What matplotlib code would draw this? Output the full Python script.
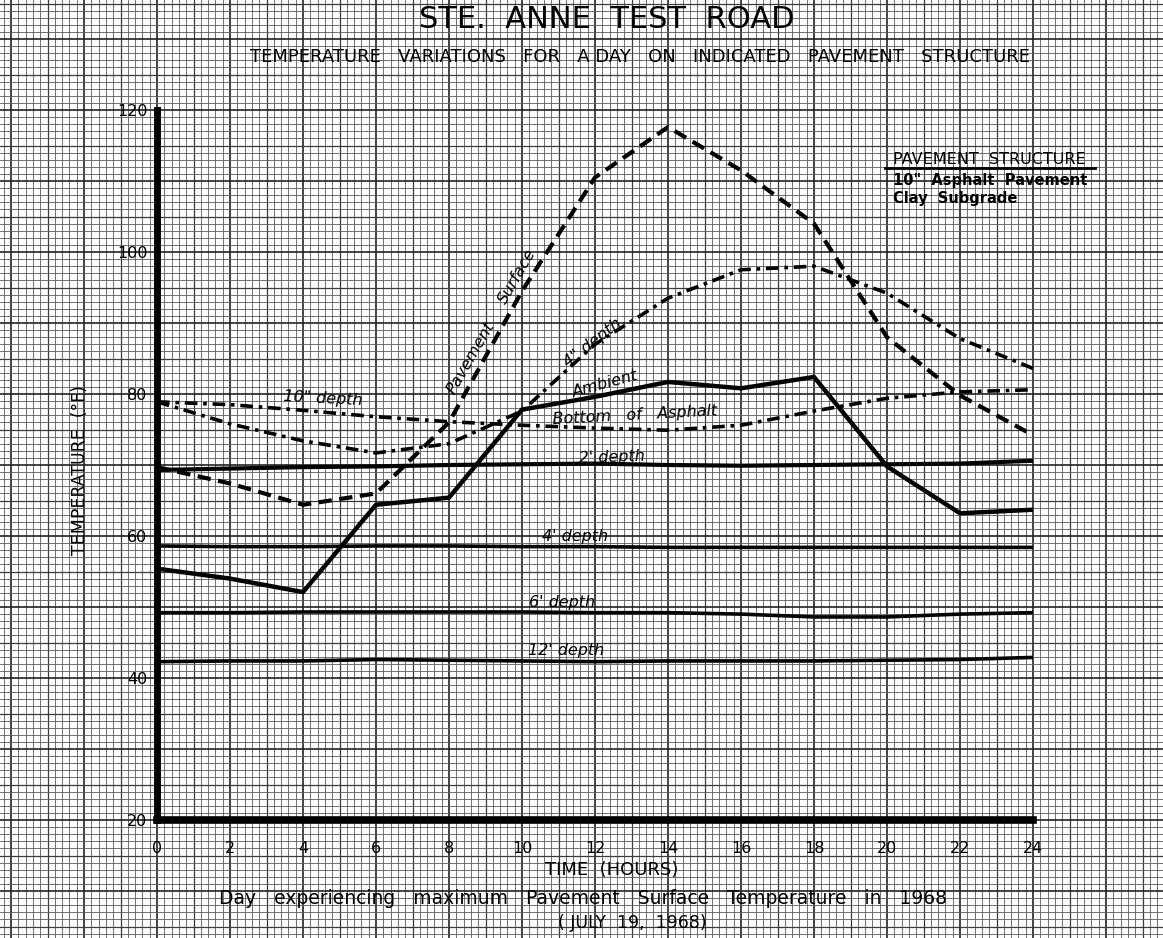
import numpy as np
import matplotlib
matplotlib.use("Agg")
import matplotlib.pyplot as plt

# --- Data ---
hours = [0, 2, 4, 6, 8, 10, 12, 14, 16, 18, 20, 22, 24]

pavement_surface = [69.7, 67.4, 64.4, 66.0, 76.0, 94.5, 110.5, 117.6, 111.5, 104.0, 88.0, 79.8, 74.2]
depth_4in = [78.9, 75.8, 73.4, 71.7, 73.0, 77.6, 87.0, 93.5, 97.5, 98.0, 94.2, 87.8, 83.6]
depth_10in = [78.9, 78.5, 77.7, 76.8, 76.1, 75.6, 75.2, 74.9, 75.6, 77.6, 79.4, 80.3, 80.6]
ambient = [55.4, 54.0, 52.1, 64.4, 65.4, 77.8, 79.6, 81.7, 80.8, 82.4, 69.8, 63.2, 63.7]
depth_2ft = [69.3, 69.5, 69.7, 69.8, 70.0, 70.1, 70.2, 70.0, 69.9, 70.0, 70.1, 70.2, 70.6]
depth_4ft = [58.6, 58.5, 58.5, 58.6, 58.6, 58.5, 58.5, 58.4, 58.4, 58.4, 58.4, 58.4, 58.4]
depth_6ft = [49.2, 49.2, 49.3, 49.3, 49.3, 49.3, 49.2, 49.2, 49.0, 48.6, 48.6, 49.0, 49.2]
depth_12ft = [42.3, 42.4, 42.4, 42.6, 42.5, 42.4, 42.3, 42.4, 42.4, 42.4, 42.5, 42.6, 42.9]

x_ticks = list(range(0, 25, 2))
y_ticks = [20, 40, 60, 80, 100, 120]

# line labels: (text, x, y, rotation)
line_labels = [
    ("Pavement", 8.6, 85.1, 60),
    ("Surface", 9.86, 96.5, 60),
    ("4\" depth", 11.94, 87.2, 38),
    ("Ambient", 12.27, 81.4, 15),
    ("Bottom   of   Asphalt", 13.1, 77.0, 3),
    ("10\" depth", 4.55, 79.4, -3),
    ("2' depth", 12.47, 71.1, 2),
    ("4' depth", 11.45, 59.9, 0),
    ("6' depth", 11.1, 50.6, 0),
    ("12' depth", 11.2, 43.9, 0),
]

W, H = 1163, 938
X0, Y0 = 157, 820          # pixel of (0 h, 20 F)
PX_H, PX_F = 36.5, 7.1     # pixels per hour / per degree

FONT = "DejaVu Sans"

fig = plt.figure(figsize=(W / 100, H / 100), dpi=100)
fig.patch.set_facecolor("white")

# --- graph paper background, aligned with the data scale ---
bg = fig.add_axes([0, 0, 1, 1], zorder=0)
bx0, bx1 = -X0 / PX_H, (W - X0) / PX_H
by0, by1 = 20 - (H - Y0) / PX_F, 20 + Y0 / PX_F
bg.set_xlim(bx0, bx1)
bg.set_ylim(by0, by1)
bg.axis("off")


def grid_style(k, big, mid):
    if k % big == 0:
        return 1.2, "#222222"
    if k % mid == 0:
        return 0.9, "#3a3a3a"
    return 0.6, "#5a5a5a"


for k in range(int(np.floor(bx0 * 5)), int(np.ceil(bx1 * 5)) + 1):
    lw, c = grid_style(k, 10, 5)
    bg.axvline(k / 5, color=c, lw=lw)
for k in range(int(np.floor(by0)), int(np.ceil(by1)) + 1):
    lw, c = grid_style(k, 10, 5)
    bg.axhline(k, color=c, lw=lw)

# --- data axes ---
ax = fig.add_axes([X0 / W, (H - Y0) / H, 24 * PX_H / W, 100 * PX_F / H], zorder=1)
ax.patch.set_alpha(0)
ax.set_xlim(0, 24)
ax.set_ylim(20, 120)
for s in ["top", "right"]:
    ax.spines[s].set_visible(False)
ax.spines["left"].set_linewidth(5)
ax.spines["bottom"].set_linewidth(5.5)
ax.set_xticks(x_ticks)
ax.set_xticklabels([str(v) for v in x_ticks], family=FONT, fontsize=11.5)
ax.set_yticks(y_ticks)
ax.set_yticklabels([str(v) for v in y_ticks], family=FONT, fontsize=11.5)
ax.tick_params(axis="x", length=0, pad=15)
ax.tick_params(axis="y", length=0, pad=7)

ax.plot(hours, pavement_surface, color="black", lw=3, linestyle=(0, (3.2, 1.8)), clip_on=False)
ax.plot(hours, depth_4in, color="black", lw=2.6, linestyle=(0, (3.5, 1.6, 1, 1.6)), clip_on=False)
ax.plot(hours, depth_10in, color="black", lw=2.6, linestyle=(0, (3.5, 1.6, 1, 1.6)), clip_on=False)
ax.plot(hours, ambient, color="black", lw=3.2)
ax.plot(hours, depth_2ft, color="black", lw=3)
ax.plot(hours, depth_4ft, color="black", lw=2.6)
ax.plot(hours, depth_6ft, color="black", lw=2.6)
ax.plot(hours, depth_12ft, color="black", lw=2.6)

for txt, lx, ly, rot in line_labels:
    ax.text(lx, ly, txt, rotation=rot, fontsize=11.5, style="italic",
            family=FONT, ha="center", va="center", rotation_mode="anchor")


# --- titles and notes ---
def ftext(px, py, s, size, **kw):
    fig.text(px / W, 1 - py / H, s, fontsize=size, family=FONT,
             ha="center", va="center", **kw)


ftext(607, 20, "STE.  ANNE  TEST  ROAD", 22)
ftext(640, 57, "TEMPERATURE   VARIATIONS   FOR   A DAY   ON   INDICATED   PAVEMENT   STRUCTURE", 13)
ftext(80, 470, "TEMPERATURE  (\u00b0F)", 12.5, rotation=90)
ftext(612, 870, "TIME  (HOURS)", 13)
ftext(583, 898, "Day   experiencing   maximum   Pavement   Surface   Temperature   in   1968", 13.5)
ftext(632, 923, "( JULY  19,  1968)", 12.5)

fig.text(893 / W, 1 - 159 / H, "PAVEMENT  STRUCTURE", fontsize=11.5, family=FONT,
         ha="left", va="center")
fig.add_artist(plt.Line2D([885 / W, 1095 / W], [1 - 168 / H, 1 - 168 / H],
                          color="black", lw=2))
fig.text(893 / W, 1 - 180 / H, "10\"  Asphalt  Pavement", fontsize=10.5, family=FONT,
         ha="left", va="center", fontweight="bold")
fig.text(893 / W, 1 - 199 / H, "Clay  Subgrade", fontsize=10.5, family=FONT,
         ha="left", va="center", fontweight="bold")

fig.savefig("out.png", dpi=100)
